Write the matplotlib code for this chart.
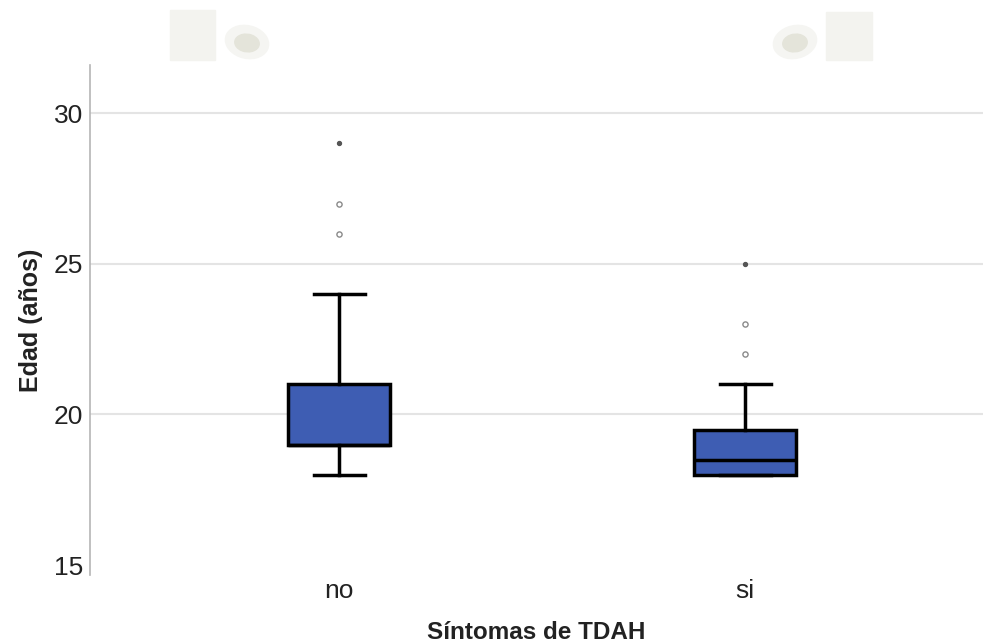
import matplotlib.pyplot as plt
from matplotlib.patches import Rectangle, Ellipse

plt.rcParams['font.family'] = ['Liberation Sans', 'DejaVu Sans']

# Data
groups = ['no', 'si']
q1 = [19, 18]
med = [19, 18.5]
q3 = [21, 19.5]
whislo = [18, 18]
whishi = [24, 21]
outliers = [[26, 27], [22, 23]]   # circles
extremes = [[29], [25]]           # asterisks

W, H = 983, 644
fig = plt.figure(figsize=(W / 100, H / 100), dpi=100)
ax = fig.add_axes([90 / W, 1 - 575 / H, 1 - 90 / W, (575 - 65) / H])

stats = []
for i in range(len(groups)):
    stats.append(dict(label=groups[i], q1=q1[i], med=med[i], q3=q3[i],
                      whislo=whislo[i], whishi=whishi[i], fliers=[]))

pos = [1, 2]
bp = ax.bxp(stats, positions=pos, widths=0.25, patch_artist=True,
            showfliers=False,
            boxprops=dict(facecolor='#3e5db3', edgecolor='black', linewidth=2.5),
            medianprops=dict(color='black', linewidth=2.5),
            whiskerprops=dict(color='black', linewidth=2.5),
            capprops=dict(color='black', linewidth=2.5),
            capwidths=0.125)

for p, o, e in zip(pos, outliers, extremes):
    ax.scatter([p] * len(o), o, s=14, facecolors='white', edgecolors='#8a8a8a',
               linewidths=1.0, zorder=3)
    ax.scatter([p] * len(e), e, s=8, color='#555555', zorder=3)

ax.set_xlim(0.386, 2.586)
ax.set_ylim(14.67, 31.6)
ax.set_yticks([15, 20, 25, 30])
ax.grid(axis='y', color='#e4e4e4', linewidth=1.5)
ax.get_ygridlines()[0].set_visible(False)
ax.set_axisbelow(True)
ax.tick_params(axis='both', length=0, labelsize=19, colors='#222222', pad=5)
ax.tick_params(axis='x', pad=3)
for s in ['top', 'right', 'bottom']:
    ax.spines[s].set_visible(False)
ax.spines['left'].set_color('#b5b5b5')
ax.spines['left'].set_linewidth(1.2)

ax.set_xlabel('Síntomas de TDAH', fontsize=17.5, fontweight='bold', color='#222222', labelpad=13)
ax.set_ylabel('Edad (años)', fontsize=18, fontweight='bold', color='#222222', labelpad=8)

# faint decorative shapes at the top
def fx(x):
    return x / W

def fy(y):
    return 1 - y / H

shapes = [
    Rectangle((fx(170), fy(60)), fx(45), 50 / H, color='#f3f3ef'),
    Ellipse((fx(247), fy(42)), 42 / W, 34 / H, angle=20, color='#f5f5f2'),
    Ellipse((fx(247), fy(43)), 24 / W, 18 / H, angle=20, color='#e4e4da'),
    Rectangle((fx(826), fy(60)), fx(46), 48 / H, color='#f3f3ef'),
    Ellipse((fx(795), fy(42)), 42 / W, 34 / H, angle=-20, color='#f5f5f2'),
    Ellipse((fx(795), fy(43)), 24 / W, 18 / H, angle=-20, color='#e4e4da'),
]
for sh in shapes:
    sh.set_transform(fig.transFigure)
    fig.patches.append(sh)

fig.savefig('out.png', dpi=100)
